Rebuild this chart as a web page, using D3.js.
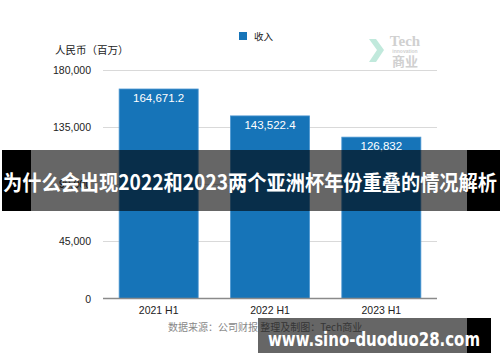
<!DOCTYPE html>
<html>
<head>
<meta charset="utf-8">
<script src="https://cdn.jsdelivr.net/npm/d3@7"></script>
<style>
  body { margin: 0; background: #fff; }
  svg { display: block; }
</style>
</head>
<body>
<div id="chart-container"></div>
<script>
var categories = ["2021 H1", "2022 H1", "2023 H1"];
var revenue = [164671.2, 143522.4, 126832];
var revenueLabels = ["164,671.2", "143,522.4", "126,832"];
var yTicks = [0, 45000, 90000, 135000, 180000];

var width = 500;
var height = 362;
var cjk = "'Noto Sans CJK SC', sans-serif";
var latin = "'Liberation Sans', Arial, 'Noto Sans CJK SC', sans-serif";

var x = d3.scaleBand()
    .domain(categories)
    .range([103, 437])
    .paddingInner(0.29)
    .paddingOuter(0.145);

var y = d3.scaleLinear()
    .domain([0, 180000])
    .range([298.5, 69.5]);

var svg = d3.select("#chart-container")
    .append("svg")
    .attr("width", width)
    .attr("height", height);

// gridlines + tick labels
svg.append("g")
    .selectAll("line")
    .data(yTicks.filter(function(d) { return d > 0; }))
    .enter().append("line")
    .attr("x1", 103).attr("x2", 437)
    .attr("y1", function(d) { return Math.round(y(d)) + 0.5; })
    .attr("y2", function(d) { return Math.round(y(d)) + 0.5; })
    .attr("stroke", "#d9d9d9");

svg.append("g")
    .selectAll("text")
    .data(yTicks)
    .enter().append("text")
    .text(function(d) { return d3.format(",")(d); })
    .attr("x", 91)
    .attr("y", function(d) { return y(d) + 4; })
    .attr("text-anchor", "end")
    .attr("font-family", latin)
    .attr("font-size", 10.5)
    .attr("fill", "#222");

svg.append("text")
    .text("人民币（百万）")
    .attr("x", 55).attr("y", 54)
    .attr("font-family", cjk)
    .attr("font-size", 10.5)
    .attr("fill", "#222");

// bars
svg.selectAll("rect.bar")
    .data(revenue)
    .enter().append("rect")
    .attr("class", "bar")
    .attr("x", function(d, i) { return x(categories[i]); })
    .attr("y", function(d) { return y(d); })
    .attr("width", x.bandwidth())
    .attr("height", function(d) { return y(0) - y(d); })
    .attr("fill", "#1674b8")
    .attr("stroke", "#4c97d2")
    .attr("stroke-width", 0.8);

svg.selectAll("text.val")
    .data(revenue)
    .enter().append("text")
    .attr("class", "val")
    .text(function(d, i) { return revenueLabels[i]; })
    .attr("x", function(d, i) { return x(categories[i]) + x.bandwidth() / 2; })
    .attr("y", function(d) { return y(d) + 13; })
    .attr("text-anchor", "middle")
    .attr("font-family", latin)
    .attr("font-size", 11.5)
    .attr("fill", "#fff");

// baseline + category axis
svg.append("line")
    .attr("x1", 103).attr("x2", 437)
    .attr("y1", y(0)).attr("y2", y(0))
    .attr("stroke", "#8a8a8a")
    .attr("stroke-width", 1.5);

svg.append("g")
    .attr("transform", "translate(0," + y(0) + ")")
    .call(d3.axisBottom(x).tickSize(0).tickPadding(8))
    .call(function(g) { g.select(".domain").remove(); })
    .selectAll("text")
    .attr("font-family", latin)
    .attr("font-size", 10.5)
    .attr("fill", "#222");

// legend
svg.append("rect")
    .attr("x", 239).attr("y", 32)
    .attr("width", 8).attr("height", 8)
    .attr("fill", "#1674b8");
svg.append("text")
    .text("收入")
    .attr("x", 254).attr("y", 40)
    .attr("font-family", cjk)
    .attr("font-size", 9.5)
    .attr("fill", "#222");

// watermark
var wm = svg.append("g").attr("opacity", 0.55);
wm.append("path")
    .attr("d", "M369,39 L376,39 L384,50 L376,62 L369,62 L377,50 Z")
    .attr("fill", "#8fd8c0");
wm.append("text").text("Tech")
    .attr("x", 405).attr("y", 46)
    .attr("text-anchor", "middle")
    .attr("font-family", "'Liberation Serif', serif")
    .attr("font-weight", "bold")
    .attr("font-size", 15)
    .attr("fill", "#aaa");
wm.append("text").text("innovation")
    .attr("x", 405).attr("y", 53)
    .attr("text-anchor", "middle")
    .attr("font-family", latin)
    .attr("font-weight", "bold")
    .attr("font-size", 5)
    .attr("fill", "#aaa");
wm.append("text").text("商业")
    .attr("x", 405).attr("y", 66)
    .attr("text-anchor", "middle")
    .attr("font-family", cjk)
    .attr("font-weight", "bold")
    .attr("font-size", 13)
    .attr("fill", "#aaa");

// source
svg.append("text")
    .text("数据来源：公司财报 整理及制图：Tech商业")
    .attr("x", 168).attr("y", 331)
    .attr("font-family", cjk)
    .attr("font-size", 10)
    .attr("fill", "#888");

// title banner overlay
svg.append("rect")
    .attr("x", 2).attr("y", 150).attr("width", 29).attr("height", 61)
    .attr("fill", "#000");
svg.append("rect")
    .attr("x", 31).attr("y", 150).attr("width", 436).attr("height", 61)
    .attr("fill", "rgba(0,0,0,0.6)");
svg.append("rect")
    .attr("x", 467).attr("y", 150).attr("width", 33).attr("height", 61)
    .attr("fill", "#000");
svg.append("text")
    .text("为什么会出现2022和2023两个亚洲杯年份重叠的情况解析")
    .attr("x", 3).attr("y", 190)
    .attr("textLength", 494)
    .attr("lengthAdjust", "spacingAndGlyphs")
    .attr("font-family", cjk)
    .attr("font-weight", "bold")
    .attr("font-size", 21)
    .attr("fill", "#fff");

// url banner overlay
svg.append("rect")
    .attr("x", 258).attr("y", 318).attr("width", 209).attr("height", 35)
    .attr("fill", "rgba(0,0,0,0.6)");
svg.append("rect")
    .attr("x", 467).attr("y", 318).attr("width", 24).attr("height", 35)
    .attr("fill", "#000");
svg.append("text")
    .text("www.sino-duoduo28.com")
    .attr("x", 268).attr("y", 346)
    .attr("textLength", 212)
    .attr("lengthAdjust", "spacingAndGlyphs")
    .attr("font-family", "'DejaVu Sans', sans-serif")
    .attr("font-weight", "bold")
    .attr("font-size", 19)
    .attr("fill", "#fff");
</script>
</body>
</html>
